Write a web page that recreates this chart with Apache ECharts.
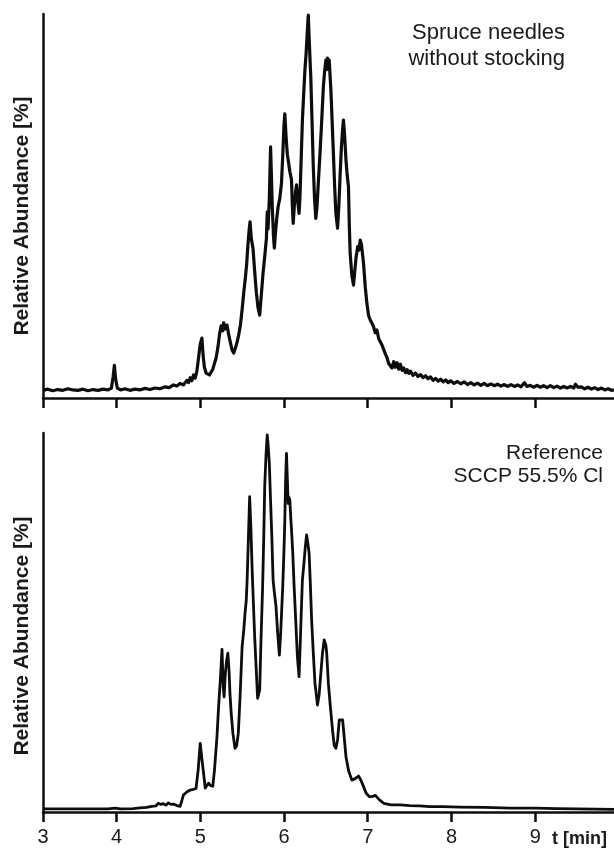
<!DOCTYPE html>
<html>
<head>
<meta charset="utf-8">
<script src="https://cdn.jsdelivr.net/npm/echarts@6/dist/echarts.min.js"></script>
<style>
  html, body { margin: 0; padding: 0; background: #ffffff; }
  #chart { width: 614px; height: 848px; }
</style>
</head>
<body>
<div id="chart"></div>
<script>
// ---- Data ----
// Retention time (min) and relative abundance (%) — top panel: spruce needles without stocking
const topTime = [3.123,3.18,3.24,3.30,3.36,3.42,3.48,3.54,3.60,3.66,3.72,3.78,3.84,3.90,3.94,3.96,3.975,3.99,4.01,4.05,4.10,4.16,4.22,4.28,4.34,4.40,4.46,4.52,4.58,4.63,4.68,4.72,4.76,4.80,4.84,4.86,4.88,4.90,4.92,4.94,4.96,4.98,5.00,5.02,5.035,5.05,5.07,5.09,5.11,5.13,5.15,5.17,5.19,5.21,5.23,5.25,5.27,5.28,5.30,5.32,5.34,5.36,5.38,5.40,5.42,5.44,5.46,5.48,5.50,5.52,5.54,5.555,5.57,5.585,5.595,5.61,5.63,5.65,5.67,5.69,5.71,5.73,5.75,5.77,5.79,5.80,5.81,5.825,5.84,5.85,5.86,5.875,5.885,5.90,5.915,5.93,5.95,5.97,5.985,6.00,6.01,6.025,6.04,6.05,6.07,6.09,6.10,6.11,6.125,6.14,6.15,6.165,6.18,6.19,6.205,6.22,6.235,6.25,6.265,6.28,6.29,6.30,6.315,6.32,6.335,6.35,6.365,6.38,6.395,6.41,6.43,6.45,6.47,6.485,6.50,6.51,6.52,6.53,6.54,6.55,6.56,6.575,6.59,6.605,6.62,6.64,6.655,6.67,6.685,6.70,6.71,6.725,6.74,6.755,6.77,6.78,6.79,6.81,6.83,6.845,6.86,6.88,6.895,6.91,6.925,6.94,6.95,6.97,6.99,7.01,7.03,7.05,7.07,7.09,7.11,7.13,7.15,7.17,7.19,7.21,7.23,7.25,7.27,7.29,7.31,7.33,7.35,7.37,7.39,7.41,7.43,7.45,7.47,7.49,7.51,7.54,7.57,7.60,7.63,7.66,7.69,7.72,7.75,7.78,7.81,7.84,7.87,7.90,7.93,7.96,7.99,8.03,8.07,8.11,8.15,8.19,8.23,8.27,8.31,8.35,8.39,8.43,8.47,8.51,8.55,8.59,8.63,8.67,8.71,8.75,8.79,8.83,8.87,8.90,8.94,8.98,9.02,9.06,9.10,9.14,9.18,9.22,9.26,9.30,9.34,9.38,9.42,9.46,9.48,9.51,9.55,9.59,9.63,9.67,9.71,9.75,9.79,9.83,9.87,9.91,9.94];
const topAbundance = [2.0,2.3,1.9,2.2,2.0,2.4,2.1,2.0,2.3,1.9,2.2,2.0,2.3,2.1,2.6,5.5,8.5,5.0,2.6,2.1,2.4,2.0,2.3,2.1,2.5,2.2,2.6,2.4,2.9,2.7,3.4,3.1,3.8,3.4,4.6,4.0,5.3,4.5,6.0,5.2,7.0,10.5,14.0,15.6,11.0,8.0,6.5,7.0,6.0,6.4,7.5,9.0,10.5,13.0,16.5,18.8,17.5,19.6,18.0,19.0,16.5,14.5,12.5,11.7,13.0,14.5,16.5,19.0,23.0,27.5,31.5,35.0,40.0,44.0,45.9,41.5,39.0,33.0,27.5,23.5,21.6,27.0,32.5,36.8,41.5,48.5,44.0,52.0,65.4,58.0,49.8,42.0,39.0,43.5,47.0,49.8,52.0,55.9,63.0,71.0,74.0,68.0,63.5,62.0,59.0,56.8,50.0,45.5,50.5,54.0,55.5,51.0,48.1,52.0,62.0,72.4,79.0,85.4,90.0,96.0,99.7,94.0,86.0,83.7,72.0,60.2,52.0,46.8,50.0,56.0,63.7,72.0,81.0,85.0,88.0,85.5,88.5,86.0,88.0,84.0,80.2,72.0,63.7,55.0,48.0,44.2,50.0,58.0,65.0,70.0,72.4,68.0,62.0,58.0,55.0,45.0,37.7,32.0,29.4,33.0,36.5,39.4,38.5,41.1,40.0,37.0,35.0,29.0,24.6,21.5,20.3,19.5,18.5,17.0,17.7,15.5,15.0,13.8,13.4,11.5,10.5,9.0,9.0,7.8,9.5,8.0,9.2,7.5,8.8,7.2,7.8,6.6,7.4,6.4,7.0,5.9,6.5,5.6,6.1,5.3,5.8,5.0,5.5,4.6,5.1,4.4,4.9,4.2,4.7,4.0,4.5,3.8,4.3,3.7,4.2,3.5,4.0,3.4,3.9,3.3,3.8,3.2,3.7,3.2,3.6,3.1,3.5,3.0,3.5,3.0,3.4,2.9,4.0,3.0,3.3,2.8,3.3,2.8,3.2,2.7,3.2,2.7,3.1,2.6,3.0,2.6,3.0,2.6,3.6,2.8,2.9,2.4,2.8,2.3,2.7,2.2,2.6,2.1,2.4,2.0,2.1];

// Bottom panel: reference SCCP 55.5% Cl
const refTime = [3.123,3.5,3.9,3.98,4.05,4.20,4.28,4.36,4.42,4.47,4.50,4.53,4.56,4.59,4.62,4.65,4.68,4.72,4.76,4.78,4.80,4.84,4.88,4.92,4.95,4.975,5.00,5.02,5.04,5.06,5.08,5.10,5.12,5.15,5.17,5.20,5.22,5.24,5.26,5.275,5.285,5.30,5.315,5.33,5.345,5.355,5.37,5.39,5.415,5.435,5.455,5.475,5.50,5.52,5.535,5.55,5.56,5.575,5.59,5.605,5.62,5.635,5.65,5.67,5.685,5.70,5.71,5.725,5.745,5.76,5.77,5.785,5.80,5.81,5.825,5.84,5.855,5.87,5.885,5.905,5.925,5.945,5.96,5.985,6.00,6.01,6.02,6.03,6.04,6.05,6.06,6.07,6.08,6.09,6.105,6.12,6.14,6.16,6.18,6.195,6.21,6.22,6.24,6.255,6.27,6.285,6.30,6.315,6.33,6.35,6.37,6.40,6.42,6.44,6.46,6.48,6.50,6.51,6.53,6.55,6.58,6.60,6.62,6.64,6.66,6.68,6.70,6.72,6.74,6.77,6.81,6.85,6.89,6.92,6.95,6.98,7.02,7.06,7.09,7.11,7.14,7.19,7.28,7.39,7.50,7.62,7.74,7.90,8.10,8.40,8.70,9.00,9.25,9.50,9.94];
const refAbundance = [0.8,0.8,0.8,1.0,0.8,0.9,1.1,1.2,1.5,1.6,2.3,2.0,2.2,1.8,2.4,2.0,2.1,1.7,1.5,3.0,4.5,5.3,5.8,6.0,6.2,11.0,18.1,14.0,10.2,6.3,7.0,7.6,7.0,6.8,11.0,19.9,28.0,34.8,42.9,33.0,30.4,36.6,40.0,41.9,37.0,31.3,26.0,20.8,16.8,17.5,20.8,30.0,43.6,48.0,52.4,56.0,61.2,72.0,83.2,75.0,63.9,55.0,46.3,37.0,30.0,30.5,32.2,45.0,59.4,74.0,85.8,94.0,99.5,97.0,92.0,82.0,72.6,61.2,58.0,54.2,47.0,41.4,47.0,59.4,69.0,77.0,88.0,94.6,88.0,81.4,83.0,82.3,78.0,74.4,68.3,60.0,50.7,41.0,35.7,45.0,55.0,61.2,66.0,70.0,73.1,71.0,68.3,60.0,50.7,42.0,34.0,28.2,31.0,36.6,42.0,45.4,44.0,41.9,34.0,28.7,21.5,17.5,16.8,19.0,24.3,24.6,24.3,19.5,14.6,11.0,8.4,8.8,9.5,8.3,6.7,5.0,4.0,4.1,4.4,4.2,3.2,2.3,1.9,1.9,1.7,1.6,1.4,1.4,1.3,1.2,1.0,1.0,0.9,0.8,0.7];

// Axis ticks / labels
const xTickValues = [3.123, 4, 5, 6, 7, 8, 9];
const xTickLabels = ['3', '4', '5', '6', '7', '8', '9'];
const xRange = [3.123, 9.94];
const yRange = [0, 100];
const panelLabels = ['Spruce needles\nwithout stocking', 'Reference\nSCCP 55.5% Cl'];
const yAxisTitle = 'Relative Abundance [%]';
const xAxisTitle = 't [min]';

// ---- Chart ----
const zip = (xs, ys) => xs.map((x, i) => [x, ys[i]]);
const FONT = '"Liberation Sans", Arial, Helvetica, sans-serif';
const INK = '#0d0d0d';

function labelFor(v) {
  let best = 0;
  for (let i = 1; i < xTickValues.length; i++) {
    if (Math.abs(xTickValues[i] - v) < Math.abs(xTickValues[best] - v)) best = i;
  }
  return xTickLabels[best];
}

function xAxisCfg(gridIndex, showLabels) {
  return {
    type: 'value', gridIndex: gridIndex,
    min: xRange[0], max: xRange[1],
    axisLine: { show: true, onZero: false, lineStyle: { color: INK, width: 2.5 } },
    axisTick: { show: true, customValues: xTickValues, length: 10, lineStyle: { color: INK, width: 2.5 } },
    axisLabel: {
      show: showLabels, customValues: xTickValues, formatter: labelFor,
      color: '#1a1a1a', fontFamily: FONT, fontSize: 20, margin: 15, lineHeight: 20
    },
    splitLine: { show: false },
    name: showLabels ? xAxisTitle : '',
    nameLocation: 'end', nameGap: -62,
    nameTextStyle: {
      fontFamily: FONT, fontWeight: 'bold', fontSize: 18, color: '#1a1a1a',
      align: 'left', verticalAlign: 'top', lineHeight: 18, padding: [18, 0, 0, 0]
    }
  };
}

function yAxisCfg(gridIndex, shift) {
  return {
    type: 'value', gridIndex: gridIndex,
    min: yRange[0], max: yRange[1],
    axisLine: { show: true, lineStyle: { color: INK, width: 2.5 } },
    axisTick: { show: false },
    axisLabel: { show: false },
    splitLine: { show: false },
    name: yAxisTitle, nameLocation: 'middle', nameGap: 10,
    nameTextStyle: {
      fontFamily: FONT, fontWeight: 'bold', fontSize: 21, color: '#1a1a1a',
      padding: [0, shift, 0, 0]
    }
  };
}

const chart = echarts.init(document.getElementById('chart'), null, { renderer: 'canvas' });
chart.setOption({
  backgroundColor: '#ffffff',
  animation: false,
  grid: [
    { left: 43, top: 14, right: 0, height: 384 },
    { left: 43, top: 433, right: 0, height: 379 }
  ],
  xAxis: [xAxisCfg(0, false), xAxisCfg(1, true)],
  yAxis: [yAxisCfg(0, 20), yAxisCfg(1, 27)],
  series: [
    {
      type: 'line', xAxisIndex: 0, yAxisIndex: 0, data: zip(topTime, topAbundance),
      showSymbol: false, clip: false, lineStyle: { color: INK, width: 3.2, join: 'round' }
    },
    {
      type: 'line', xAxisIndex: 1, yAxisIndex: 1, data: zip(refTime, refAbundance),
      showSymbol: false, clip: false, lineStyle: { color: INK, width: 2.8, join: 'round' }
    }
  ],
  graphic: [
    {
      type: 'text', right: 614 - 565, top: 20,
      style: { text: panelLabels[0], font: '22px ' + FONT, fill: '#1a1a1a', textAlign: 'right', lineHeight: 26 }
    },
    {
      type: 'text', right: 614 - 603, top: 442,
      style: { text: panelLabels[1], font: '21px ' + FONT, fill: '#1a1a1a', textAlign: 'right', lineHeight: 23 }
    }
  ]
});
</script>
</body>
</html>
